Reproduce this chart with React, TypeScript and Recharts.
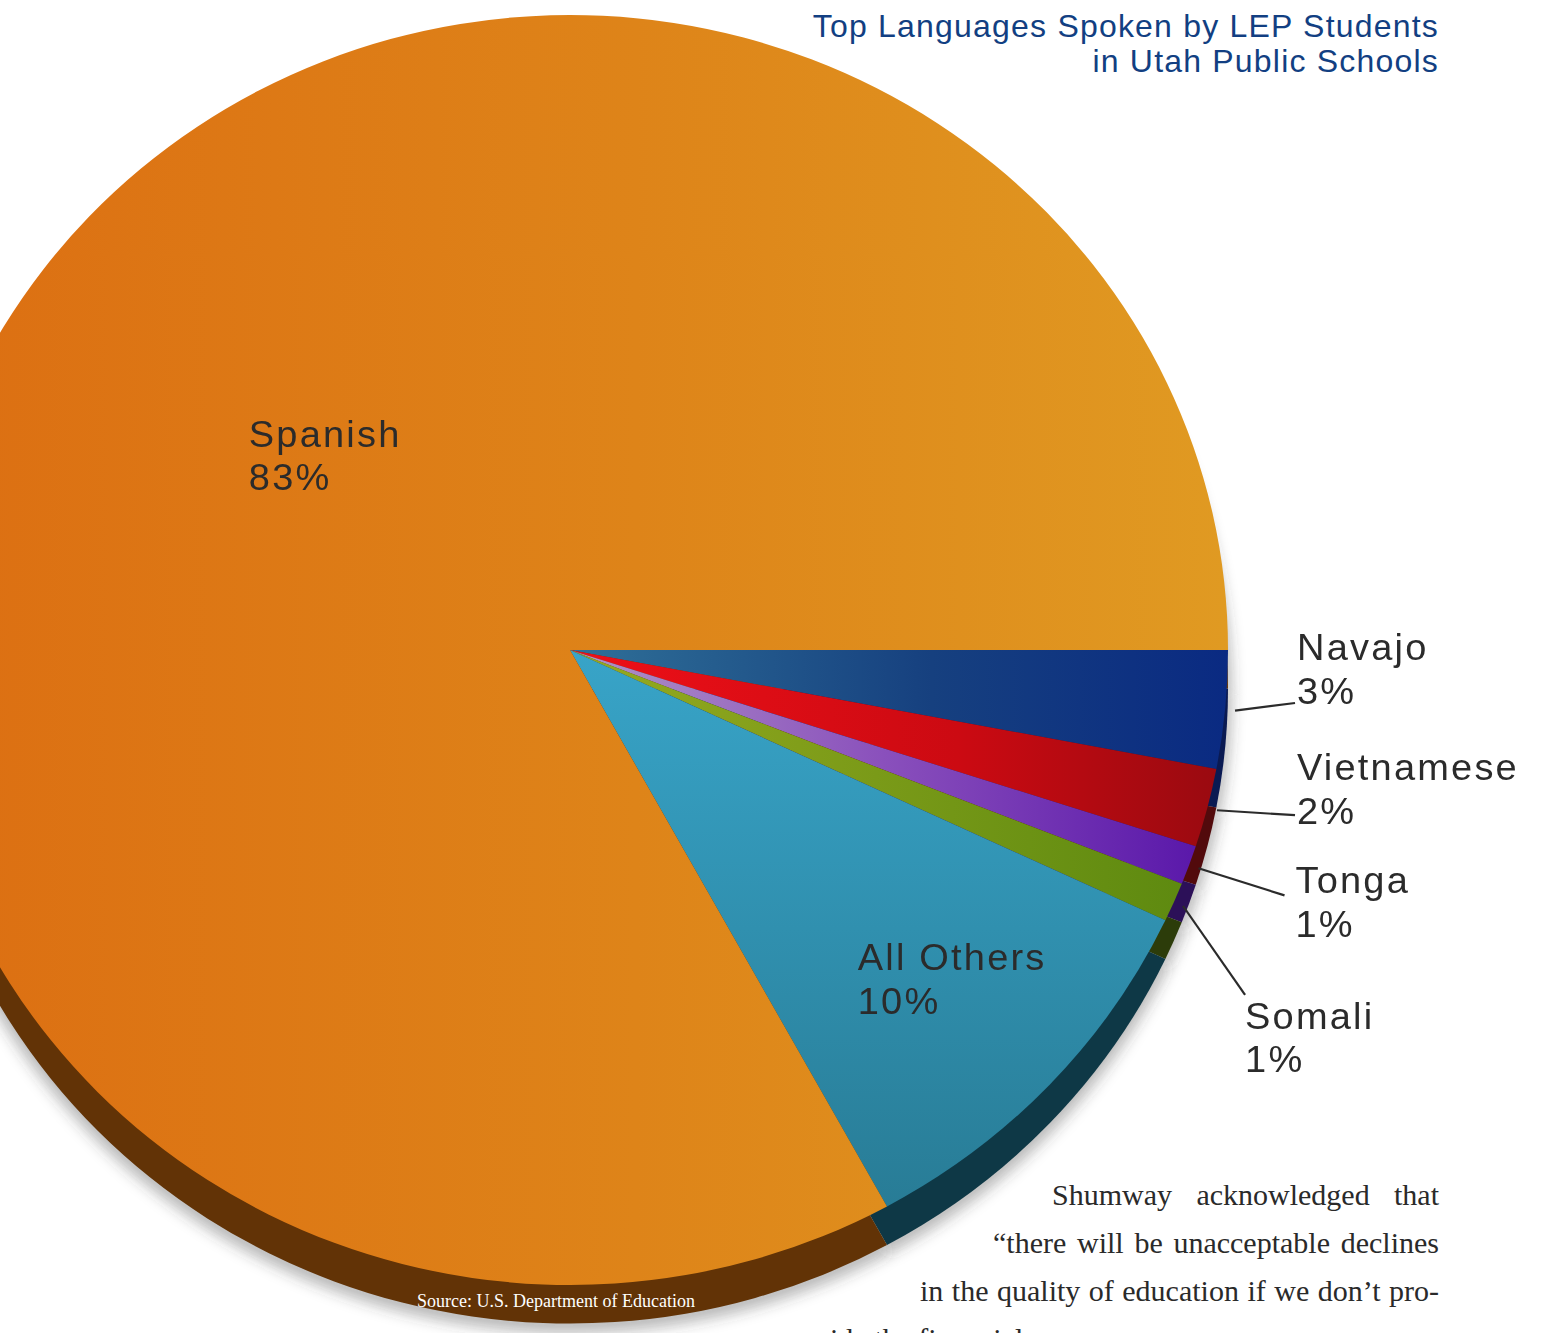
import { PieChart, Pie, Cell } from "recharts"

// order follows the pie clockwise from 3 o'clock
const LANGUAGES = ["Navajo", "Vietnamese", "Tonga", "Somali", "All Others", "Spanish"]
const SHARES = [3, 2, 1, 1, 10, 83]

const TITLE_LINES = ["Top Languages Spoken by LEP Students", "in Utah Public Schools"]
const SOURCE = "Source: U.S. Department of Education"
const BODY_LINES = [
  "Shumway acknowledged that",
  "\u201cthere will be unacceptable declines",
  "in the quality of education if we don\u2019t pro-",
  "vide the financial resources",
]

const data = LANGUAGES.map((name, i) => ({ name, value: SHARES[i] }))

const FACE = ["url(#gNavajo)", "url(#gViet)", "url(#gTonga)", "url(#gSomali)", "url(#gOthers)", "url(#gSpanish)"]
const DEPTH = ["#0a1a52", "#520a0c", "#2c1058", "#2c3c0a", "#0e3846", "#623306"]

// label placement relative to the slice geometry
const LABEL_LAYOUT: Record<string, any> = {
  Spanish: { inside: true, r: 0.5, dx: -38, dy: -43 },
  "All Others": { inside: true, r: 0.65, dx: -24, dy: 39 },
  Navajo: { lineDx: 60, lineDy: -8, dx: 2, dy: -44 },
  Vietnamese: { lineDx: 78, lineDy: 5, dx: 2, dy: -36 },
  Tonga: { lineDx: 86, lineDy: 28, dx: 11, dy: -2 },
  Somali: { lineDx: 62, lineDy: 92, dx: 0, dy: 35 },
}

const RAD = Math.PI / 180
const polar = (cx: number, cy: number, r: number, angle: number) => ({
  x: cx + r * Math.cos(-angle * RAD),
  y: cy + r * Math.sin(-angle * RAD),
})

const LABEL_FONT = "'Liberation Sans', Arial, Helvetica, sans-serif"

const renderLabel = (props: any) => {
  const { cx, cy, midAngle, outerRadius, index } = props
  const name = LANGUAGES[index]
  const value = SHARES[index]
  const lay = LABEL_LAYOUT[name]
  let tx: number
  let ty: number
  let line = null
  if (lay.inside) {
    const p = polar(cx, cy, outerRadius * lay.r, midAngle)
    tx = p.x + lay.dx
    ty = p.y + lay.dy
  } else {
    const s = polar(cx, cy, outerRadius + 10, midAngle)
    const ex = s.x + lay.lineDx
    const ey = s.y + lay.lineDy
    line = <line x1={s.x} y1={s.y} x2={ex} y2={ey} stroke="#2b2b2b" strokeWidth={2.2} />
    tx = ex + lay.dx
    ty = ey + lay.dy
  }
  return (
    <g key={`lbl-${index}`}>
      {line}
      <text fill="#2b2b2b" fontFamily={LABEL_FONT} fontSize={38} letterSpacing={2.2}>
        <tspan x={tx} y={ty}>{name}</tspan>
        <tspan x={tx} dy={45}>{value}%</tspan>
      </text>
    </g>
  )
}

// the svg is taller than the page so the pie is not cut by it
const PAD = 100
const CX = 570
const CY = 650 + PAD
const R = 658

export default function App() {
  return (
    <div style={{ position: "relative", width: 1547, height: 1333, overflow: "hidden", background: "#fff" }}>
      <style>{`body { margin: 0; }`}</style>
      <div style={{ position: "absolute", left: 0, top: -PAD, transform: "scaleY(0.965)", transformOrigin: `0 ${CY}px` }}>
        <PieChart width={1547} height={1333 + 2 * PAD} margin={{ top: 0, right: 0, bottom: 0, left: 0 }}>
          <defs>
            <filter id="softShadow" x="-20%" y="-20%" width="140%" height="140%">
              <feGaussianBlur stdDeviation="7" />
            </filter>
            <linearGradient id="gSpanish" x1="0" y1="0" x2="1" y2="0">
              <stop offset="0%" stopColor="#dc6e12" />
              <stop offset="55%" stopColor="#de8419" />
              <stop offset="100%" stopColor="#e09a22" />
            </linearGradient>
            <linearGradient id="gNavajo" x1="0" y1="0" x2="1" y2="0">
              <stop offset="0%" stopColor="#2f7098" />
              <stop offset="55%" stopColor="#16407f" />
              <stop offset="100%" stopColor="#0a2a82" />
            </linearGradient>
            <linearGradient id="gViet" x1="0" y1="0" x2="1" y2="0">
              <stop offset="0%" stopColor="#ee1018" />
              <stop offset="60%" stopColor="#cc0a12" />
              <stop offset="100%" stopColor="#9a0a10" />
            </linearGradient>
            <linearGradient id="gTonga" x1="0" y1="0" x2="1" y2="0">
              <stop offset="0%" stopColor="#b095c8" />
              <stop offset="50%" stopColor="#8a50bc" />
              <stop offset="100%" stopColor="#5a18aa" />
            </linearGradient>
            <linearGradient id="gSomali" x1="0" y1="0" x2="1" y2="0">
              <stop offset="0%" stopColor="#96aa20" />
              <stop offset="100%" stopColor="#5e8a10" />
            </linearGradient>
            <linearGradient id="gOthers" x1="0" y1="0" x2="0" y2="1">
              <stop offset="0%" stopColor="#38a4c8" />
              <stop offset="100%" stopColor="#287c96" />
            </linearGradient>
          </defs>
          <Pie
            data={data}
            dataKey="value"
            cx={CX}
            cy={CY + 46}
            outerRadius={R + 4}
            startAngle={0}
            endAngle={-360}
            stroke="none"
            isAnimationActive={false}
            label={false}
            labelLine={false}
          >
            {data.map((entry, i) => (
              <Cell key={`sh-${i}`} fill="#3a3a3a" fillOpacity={0.35} filter="url(#softShadow)" />
            ))}
          </Pie>
          <Pie
            data={data}
            dataKey="value"
            cx={CX}
            cy={CY + 40}
            outerRadius={R}
            startAngle={0}
            endAngle={-360}
            stroke="none"
            isAnimationActive={false}
            label={false}
            labelLine={false}
          >
            {data.map((entry, i) => (
              <Cell key={`d-${i}`} fill={DEPTH[i]} />
            ))}
          </Pie>
          <Pie
            data={data}
            dataKey="value"
            cx={CX}
            cy={CY}
            outerRadius={R}
            startAngle={0}
            endAngle={-360}
            stroke="none"
            isAnimationActive={false}
            label={renderLabel}
            labelLine={false}
          >
            {data.map((entry, i) => (
              <Cell key={`f-${i}`} fill={FACE[i]} />
            ))}
          </Pie>
        </PieChart>
      </div>

      <svg width={1547} height={1333} style={{ position: "absolute", left: 0, top: 0, pointerEvents: "none" }}>
        <text x={1439} y={37} textAnchor="end" fill="#123f82" fontFamily={LABEL_FONT} fontSize={32} letterSpacing={1.2}>
          {TITLE_LINES[0]}
        </text>
        <text x={1439} y={72} textAnchor="end" fill="#123f82" fontFamily={LABEL_FONT} fontSize={32} letterSpacing={1.2}>
          {TITLE_LINES[1]}
        </text>
        <text x={417} y={1307} fill="#ffffff" fontFamily="'Liberation Serif', 'Times New Roman', serif" fontSize={18}>
          {SOURCE}
        </text>
      </svg>

      {BODY_LINES.map((txt, i) => {
        const lefts = [1052, 993, 920, 815]
        const baseline = 1205 + i * 48
        return (
          <div
            key={`body-${i}`}
            style={{
              position: "absolute",
              left: lefts[i],
              width: i === 3 ? undefined : 1439 - lefts[i],
              top: baseline - 25,
              fontFamily: "'Liberation Serif', 'Times New Roman', serif",
              fontSize: 30,
              lineHeight: "30px",
              color: "#2a2a2a",
              whiteSpace: "nowrap",
              textAlign: "justify",
              textAlignLast: i === 3 ? "left" : "justify",
            }}
          >
            {txt}
          </div>
        )
      })}
    </div>
  )
}
